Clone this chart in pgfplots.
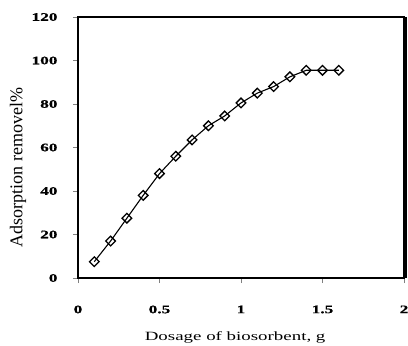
\documentclass[border=0pt]{standalone}
\usepackage{pgfplots}
\pgfplotsset{compat=1.18}
\usepackage{fontspec}
\setmainfont{Liberation Serif}
\newfontfamily\widefont{Liberation Serif}[FakeStretch=1.5]
\newfontfamily\wideboldfont{Liberation Serif Bold}[FakeStretch=1.5, FakeBold=0.6]
\begin{document}
\begin{tikzpicture}
\path[use as bounding box] (0,0) rectangle (408pt,346pt);
\begin{axis}[
  at={(78pt,68pt)}, anchor=south west,
  scale only axis, width=326pt, height=261pt,
  xmin=0, xmax=2, ymin=0, ymax=120,
  xtick={0,0.5,1,1.5,2}, ytick={0,20,40,60,80,100,120},
  tick pos=left, tick align=outside, major tick length=5pt,
  tick style={gray, line width=0.8pt},
  axis line style={black, line width=1.4pt},
  /pgf/number format/assume math mode=true,
  ticklabel style={font=\wideboldfont\fontsize{11.5}{12}\selectfont},
  xticklabel style={anchor=north, yshift=-19pt},
  yticklabel style={anchor=east, xshift=-12pt},
  xlabel={Dosage of biosorbent, g},
  ylabel={Adsorption removel\%},
  xlabel style={font=\widefont\fontsize{12.6}{14}\selectfont, at={(axis description cs:0.482,-0.226)}, anchor=center},
  ylabel style={font=\fontsize{18}{20}\selectfont, at={(axis description cs:-0.184,0.423)}, anchor=center},
  clip=false,
]
\addplot[black, line width=1.1pt, mark=square, mark size=3.4pt,
  mark options={rotate=45, line width=1.3pt, fill=white}]
coordinates {
(0.1,7.5) (0.2,17) (0.3,27.5) (0.4,38) (0.5,48) (0.6,56) (0.7,63.5) (0.8,70)
(0.9,74.5) (1.0,80.5) (1.1,85) (1.2,88) (1.3,92.5) (1.4,95.5) (1.5,95.5) (1.6,95.5)
};
\draw[black, line width=3pt] ([xshift=2pt]rel axis cs:1,0) -- ([xshift=2pt]rel axis cs:1,1);
\end{axis}
\end{tikzpicture}
\end{document}
